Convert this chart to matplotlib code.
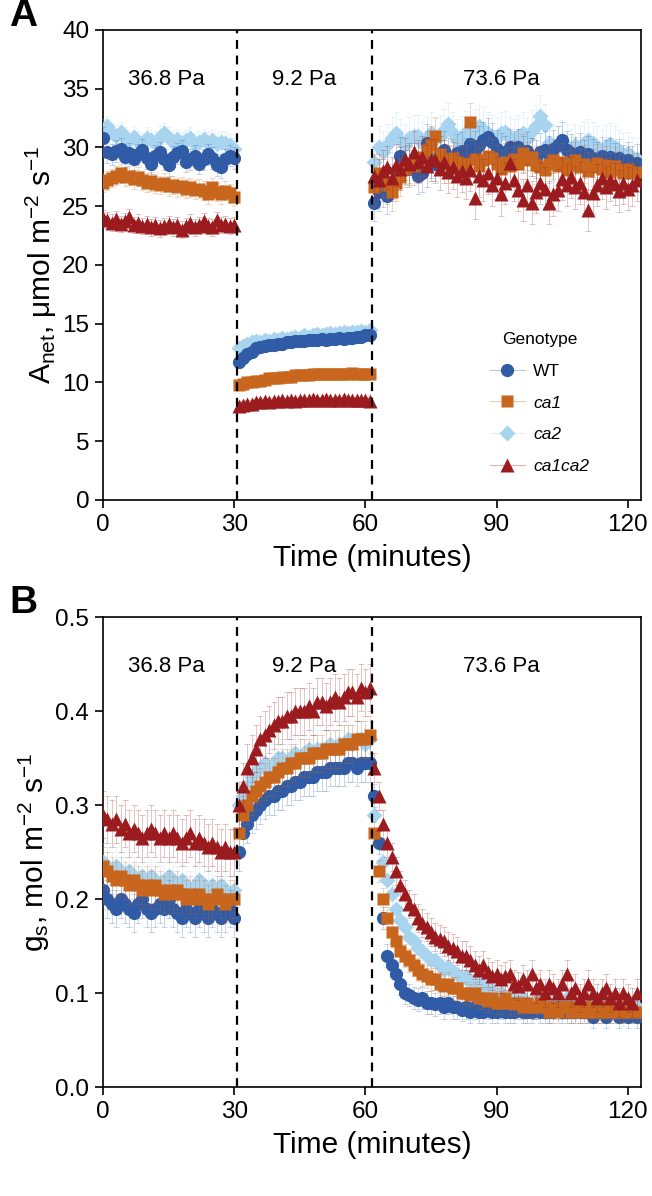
import numpy as np
import matplotlib
matplotlib.use("Agg")
import matplotlib.pyplot as plt
from matplotlib.lines import Line2D

plt.rcParams['font.family'] = ['Liberation Sans', 'DejaVu Sans']
plt.rcParams['mathtext.fontset'] = 'custom'
plt.rcParams['mathtext.rm'] = 'Liberation Sans'
plt.rcParams['mathtext.it'] = 'Liberation Sans:italic'

# time points (minutes), three CO2 periods
seg_len = [31, 31, 61]
time_min = np.arange(0, 123)
co2_steps = [30.6, 61.6]
co2_labels = ["36.8 Pa", "9.2 Pa", "73.6 Pa"]
co2_label_x = [14.6, 46, 91]

genotypes = ["WT", "ca1", "ca2", "ca1ca2"]
colors = {"WT": "#2F5BA7", "ca1": "#C9661D", "ca2": "#A8D4F0", "ca1ca2": "#9C1B1E"}
markers = {"WT": "o", "ca1": "s", "ca2": "D", "ca1ca2": "^"}
msize = {"WT": 9.5, "ca1": 8.5, "ca2": 8.5, "ca1ca2": 10.5}

# ---- Panel A: net assimilation ----
anet_wt = [30.8, 29.6, 29.4, 29.7, 29.9, 29.2, 29.5, 29.0, 29.4, 29.8, 29.1, 28.6, 29.3, 29.6, 29.0, 28.5,
           29.2, 29.5, 29.7, 28.8, 29.0, 29.3, 28.6, 29.0, 29.4, 29.1, 28.5, 28.3, 29.0, 29.3, 29.1,
           11.7, 12.1, 12.4, 12.6, 12.9, 13.0, 13.1, 13.2, 13.2, 13.3, 13.3, 13.4, 13.4, 13.5, 13.5, 13.5,
           13.6, 13.6, 13.6, 13.7, 13.6, 13.7, 13.7, 13.8, 13.7, 13.8, 13.8, 13.9, 13.9, 14.0, 14.0,
           25.3, 26.2, 26.5, 25.9, 27.0, 28.0, 29.3, 28.5, 28.2, 28.8, 27.6, 27.8, 30.4, 29.0, 28.6, 29.4,
           29.8, 29.2, 28.9, 29.5, 29.7, 29.2, 30.3, 29.8, 30.2, 30.6, 30.9, 30.5, 29.9, 29.6, 29.4, 30.0,
           29.8, 30.0, 29.4, 29.7, 29.2, 29.0, 29.6, 29.8, 29.4, 29.9, 30.2, 30.6, 29.8, 29.5, 29.3, 29.6,
           29.0, 29.4, 29.1, 28.9, 29.3, 29.0, 29.2, 28.8, 29.1, 28.6, 28.9, 28.5, 28.7]
anet_ca1 = [27.0, 27.2, 27.4, 27.6, 27.8, 27.5, 27.6, 27.3, 27.5, 27.2, 27.0, 27.1, 26.9, 26.8, 27.0, 26.7,
            26.8, 26.6, 26.7, 26.5, 26.6, 26.4, 26.5, 26.3, 26.0, 26.6, 26.2, 26.0, 26.3, 26.1, 25.8,
            9.8, 9.9, 10.0, 10.0, 10.1, 10.1, 10.2, 10.4, 10.4, 10.4, 10.5, 10.5, 10.5, 10.6, 10.6, 10.6,
            10.6, 10.7, 10.7, 10.7, 10.7, 10.7, 10.7, 10.7, 10.7, 10.7, 10.8, 10.7, 10.7, 10.7, 10.7,
            26.6, 27.8, 27.4, 26.8, 26.2, 27.0, 27.5, 28.2, 28.6, 28.4, 28.8, 29.2, 29.8, 30.2, 31.0, 29.4,
            29.0, 28.6, 29.1, 28.8, 28.5, 28.7, 32.2, 29.0, 28.4, 28.9, 29.3, 29.1, 28.6, 28.2, 28.8, 28.4,
            29.0, 28.6, 29.5, 28.9, 29.2, 28.5, 28.3, 28.1, 28.6, 28.9, 28.4, 28.8, 28.1, 28.5, 28.9, 28.3,
            28.6, 28.0, 28.3, 28.7, 28.2, 28.5, 27.9, 28.4, 28.1, 27.8, 28.2, 27.8, 27.9]
anet_ca2 = [31.5, 31.8, 31.2, 31.0, 31.3, 30.8, 30.6, 30.9, 30.5, 30.3, 30.8, 30.6, 30.4, 30.9, 31.2, 30.8,
            30.5, 30.7, 30.4, 30.6, 30.8, 30.3, 30.5, 30.7, 30.4, 30.6, 30.3, 30.5, 30.4, 30.2, 29.9,
            12.9, 13.1, 13.3, 13.4, 13.5, 13.4, 13.6, 13.5, 13.7, 13.6, 13.8, 13.7, 13.8, 13.9, 13.8, 14.0,
            13.9, 14.0, 14.1, 14.0, 14.1, 14.2, 14.1, 14.2, 14.3, 14.2, 14.3, 14.3, 14.4, 14.3, 14.5,
            28.8, 30.0, 29.6, 30.2, 30.8, 31.2, 30.6, 30.2, 30.8, 31.0, 31.0, 30.4, 30.8, 31.2, 30.7, 31.0,
            31.5, 32.0, 31.2, 30.6, 30.9, 31.3, 31.0, 31.5, 31.8, 31.6, 31.2, 31.0, 30.8, 31.2, 31.3, 30.8,
            30.6, 31.0, 31.2, 30.7, 31.4, 31.8, 32.7, 31.9, 30.4, 30.2, 30.0, 30.5, 30.1, 29.8, 30.2, 30.0,
            30.4, 30.6, 30.4, 30.0, 29.7, 30.1, 30.3, 30.0, 29.7, 29.4, 29.5, 29.1, 29.0]
anet_ca1ca2 = [24.0, 23.8, 23.6, 23.9, 23.5, 23.7, 24.1, 23.4, 23.6, 23.3, 23.5, 23.2, 23.4, 23.1, 23.3, 23.5,
               23.2, 23.4, 23.0, 23.3, 23.6, 23.2, 23.4, 23.7, 23.3, 23.2, 23.8, 23.4, 23.5, 23.3, 23.4,
               8.0, 8.1, 8.2, 8.2, 8.3, 8.3, 8.4, 8.3, 8.4, 8.4, 8.5, 8.4, 8.5, 8.4, 8.5, 8.5,
               8.5, 8.6, 8.5, 8.5, 8.6, 8.5, 8.5, 8.5, 8.6, 8.5, 8.5, 8.5, 8.5, 8.5, 8.4,
               27.6, 27.2, 28.0, 28.3, 27.4, 28.5, 28.2, 29.0, 28.6, 29.6, 28.8, 29.2, 28.4, 28.9, 28.9, 28.2,
               28.8, 27.9, 28.3, 27.6, 28.0, 27.4, 28.1, 25.7, 27.6, 27.2, 27.8, 26.8, 27.4, 26.0, 27.0, 28.7,
               27.2, 26.4, 25.5, 26.8, 25.3, 26.2, 27.0, 26.5, 25.3, 26.0, 26.4, 27.3, 26.8, 27.5, 26.6, 27.0,
               26.2, 24.7, 26.1, 26.8, 27.4, 26.6, 27.2, 26.9, 26.3, 27.0, 26.5, 26.8, 27.2]
# error estimate per CO2 period
anet_err = {"WT": [0.9, 0.5, 1.6], "ca1": [0.8, 0.4, 1.6], "ca2": [0.9, 0.5, 1.8], "ca1ca2": [0.7, 0.3, 1.8]}

# ---- Panel B: stomatal conductance ----
gs_wt = [0.21, 0.20, 0.195, 0.19, 0.20, 0.195, 0.19, 0.185, 0.195, 0.20, 0.19, 0.185, 0.19, 0.195, 0.19, 0.20,
         0.19, 0.185, 0.18, 0.19, 0.185, 0.18, 0.19, 0.185, 0.18, 0.19, 0.185, 0.18, 0.185, 0.19, 0.18,
         0.25, 0.27, 0.28, 0.29, 0.295, 0.30, 0.305, 0.31, 0.31, 0.315, 0.315, 0.32, 0.32, 0.325, 0.325, 0.33,
         0.33, 0.33, 0.335, 0.335, 0.335, 0.34, 0.34, 0.34, 0.34, 0.345, 0.345, 0.34, 0.345, 0.345, 0.345,
         0.31, 0.26, 0.18, 0.14, 0.13, 0.12, 0.11, 0.10, 0.098, 0.095, 0.093, 0.095, 0.09, 0.09, 0.088, 0.09,
         0.085, 0.09, 0.085, 0.085, 0.082, 0.085, 0.08, 0.085, 0.08, 0.08, 0.085, 0.08, 0.08, 0.085, 0.08, 0.08,
         0.08, 0.085, 0.08, 0.08, 0.08, 0.085, 0.08, 0.08, 0.08, 0.08, 0.085, 0.08, 0.08, 0.08, 0.08, 0.08,
         0.08, 0.08, 0.075, 0.08, 0.08, 0.075, 0.08, 0.08, 0.075, 0.08, 0.075, 0.08, 0.075]
gs_ca1 = [0.235, 0.23, 0.225, 0.22, 0.225, 0.22, 0.215, 0.22, 0.215, 0.21, 0.215, 0.21, 0.215, 0.21, 0.205, 0.21,
          0.205, 0.21, 0.205, 0.20, 0.205, 0.20, 0.205, 0.20, 0.195, 0.20, 0.205, 0.20, 0.195, 0.20, 0.20,
          0.27, 0.29, 0.30, 0.31, 0.315, 0.32, 0.325, 0.33, 0.33, 0.335, 0.34, 0.34, 0.345, 0.345, 0.35, 0.35,
          0.35, 0.355, 0.355, 0.355, 0.36, 0.36, 0.36, 0.36, 0.365, 0.365, 0.365, 0.37, 0.37, 0.37, 0.375,
          0.27, 0.23, 0.20, 0.18, 0.165, 0.155, 0.145, 0.14, 0.135, 0.13, 0.125, 0.12, 0.118, 0.115, 0.115, 0.11,
          0.108, 0.11, 0.105, 0.105, 0.10, 0.10, 0.098, 0.10, 0.095, 0.095, 0.092, 0.095, 0.09, 0.09, 0.095, 0.09,
          0.088, 0.09, 0.085, 0.09, 0.085, 0.085, 0.09, 0.085, 0.08, 0.085, 0.08, 0.085, 0.085, 0.08, 0.085, 0.08,
          0.085, 0.08, 0.085, 0.08, 0.08, 0.085, 0.08, 0.085, 0.08, 0.08, 0.085, 0.08, 0.08]
gs_ca2 = [0.24, 0.235, 0.23, 0.235, 0.23, 0.225, 0.23, 0.225, 0.22, 0.225, 0.22, 0.225, 0.22, 0.215, 0.22, 0.225,
          0.22, 0.215, 0.22, 0.215, 0.21, 0.215, 0.22, 0.215, 0.21, 0.215, 0.21, 0.215, 0.21, 0.205, 0.21,
          0.30, 0.31, 0.32, 0.33, 0.335, 0.34, 0.345, 0.34, 0.345, 0.35, 0.35, 0.345, 0.35, 0.355, 0.35, 0.355,
          0.36, 0.355, 0.36, 0.36, 0.36, 0.365, 0.36, 0.365, 0.365, 0.37, 0.365, 0.37, 0.37, 0.365, 0.37,
          0.29, 0.26, 0.24, 0.22, 0.205, 0.19, 0.178, 0.17, 0.16, 0.155, 0.148, 0.145, 0.14, 0.135, 0.135, 0.13,
          0.125, 0.128, 0.122, 0.12, 0.115, 0.118, 0.112, 0.11, 0.112, 0.105, 0.108, 0.10, 0.098, 0.10, 0.095, 0.095,
          0.095, 0.09, 0.095, 0.09, 0.088, 0.09, 0.095, 0.09, 0.085, 0.09, 0.085, 0.09, 0.095, 0.09, 0.085, 0.09,
          0.085, 0.09, 0.085, 0.09, 0.085, 0.09, 0.085, 0.09, 0.085, 0.08, 0.085, 0.09, 0.085]
gs_ca1ca2 = [0.29, 0.285, 0.28, 0.285, 0.275, 0.28, 0.27, 0.275, 0.27, 0.265, 0.27, 0.275, 0.27, 0.265, 0.27, 0.265,
             0.27, 0.265, 0.26, 0.265, 0.27, 0.26, 0.265, 0.26, 0.255, 0.26, 0.255, 0.25, 0.255, 0.25, 0.25,
             0.30, 0.32, 0.34, 0.35, 0.36, 0.37, 0.375, 0.38, 0.385, 0.39, 0.39, 0.395, 0.395, 0.40, 0.40, 0.40,
             0.405, 0.40, 0.41, 0.41, 0.405, 0.41, 0.415, 0.41, 0.415, 0.42, 0.42, 0.415, 0.425, 0.42, 0.425,
             0.34, 0.31, 0.28, 0.26, 0.245, 0.23, 0.215, 0.205, 0.195, 0.19, 0.18, 0.175, 0.17, 0.165, 0.16, 0.158,
             0.155, 0.15, 0.148, 0.145, 0.14, 0.14, 0.135, 0.13, 0.125, 0.13, 0.122, 0.118, 0.12, 0.115, 0.118, 0.12,
             0.11, 0.108, 0.115, 0.11, 0.12, 0.105, 0.11, 0.10, 0.11, 0.105, 0.10, 0.11, 0.12, 0.10, 0.105, 0.095,
             0.10, 0.11, 0.10, 0.095, 0.10, 0.105, 0.095, 0.10, 0.09, 0.10, 0.095, 0.09, 0.10]
gs_err = {"WT": [0.02, 0.02, 0.012], "ca1": [0.02, 0.02, 0.012], "ca2": [0.02, 0.02, 0.015],
          "ca1ca2": [0.025, 0.025, 0.015]}

anet = {"WT": anet_wt, "ca1": anet_ca1, "ca2": anet_ca2, "ca1ca2": anet_ca1ca2}
gs = {"WT": gs_wt, "ca1": gs_ca1, "ca2": gs_ca2, "ca1ca2": gs_ca1ca2}

# drawing order: light blue underneath, dark red on top
draw_order = ["ca2", "WT", "ca1", "ca1ca2"]


def panel(ax, values, errs, ylim, yticks, ylabel, text_y, letter):
    for i, g in enumerate(draw_order):
        err = np.repeat(errs[g], seg_len)
        for s in range(3):
            lo = sum(seg_len[:s])
            hi = lo + seg_len[s]
            h = ax.errorbar(time_min[lo:hi], values[g][lo:hi], yerr=err[lo:hi],
                            fmt=markers[g], ms=msize[g], color=colors[g], mec='none',
                            ecolor=colors[g], elinewidth=0.6, capsize=2, capthick=0.6,
                            zorder=3 + i)
            for c in h[1]:
                c.set_alpha(0.3)
            for c in h[2]:
                c.set_alpha(0.3)
    for x in co2_steps:
        ax.axvline(x, color='black', ls=(0, (4, 3)), lw=1.6, zorder=10)
    for x, t in zip(co2_label_x, co2_labels):
        ax.text(x, text_y, t, ha='center', va='center', fontsize=16)
    ax.set_xlim(0, 123)
    ax.set_ylim(*ylim)
    ax.set_xticks([0, 30, 60, 90, 120])
    ax.set_yticks(yticks)
    ax.tick_params(direction='out', length=6, width=1.2, labelsize=17.5, pad=4)
    for sp in ax.spines.values():
        sp.set_linewidth(1.2)
    ax.set_xlabel("Time (minutes)", fontsize=21.5, labelpad=6)
    ax.set_ylabel(ylabel, fontsize=21.5, labelpad=2)
    ax.text(-0.175, 1.03, letter, transform=ax.transAxes, fontsize=28, fontweight='bold',
            ha='left', va='center')


fig = plt.figure(figsize=(6.52, 11.96), dpi=100)
ax_a = fig.add_axes([0.158, 0.582, 0.825, 0.393])
ax_b = fig.add_axes([0.158, 0.091, 0.825, 0.393])

panel(ax_a, anet, anet_err, (0, 40), np.arange(0, 41, 5),
      r'A$_{\rm net}$, μmol m$^{-2}$ s$^{-1}$', 35.8, "A")
panel(ax_b, gs, gs_err, (0, 0.5), [0.0, 0.1, 0.2, 0.3, 0.4, 0.5],
      r'g$_{\rm s}$, mol m$^{-2}$ s$^{-1}$', 0.448, "B")
ax_b.set_yticklabels(["0.0", "0.1", "0.2", "0.3", "0.4", "0.5"])

handles = [Line2D([], [], lw=0.8, marker=markers[g], ms=msize[g], mec='none') for g in genotypes]
for h, g in zip(handles, genotypes):
    h.set_color(colors[g] + "55")
    h.set_markerfacecolor(colors[g])
leg = ax_a.legend(handles, genotypes, title="Genotype", frameon=False,
                  loc='upper left', bbox_to_anchor=(0.69, 0.39), fontsize=12.5,
                  title_fontsize=12.5, labelspacing=0.95, handlelength=2.0, handletextpad=0.5)
for txt in leg.get_texts():
    if txt.get_text() != "WT":
        txt.set_fontstyle('italic')

fig.savefig("out.png", dpi=100)
